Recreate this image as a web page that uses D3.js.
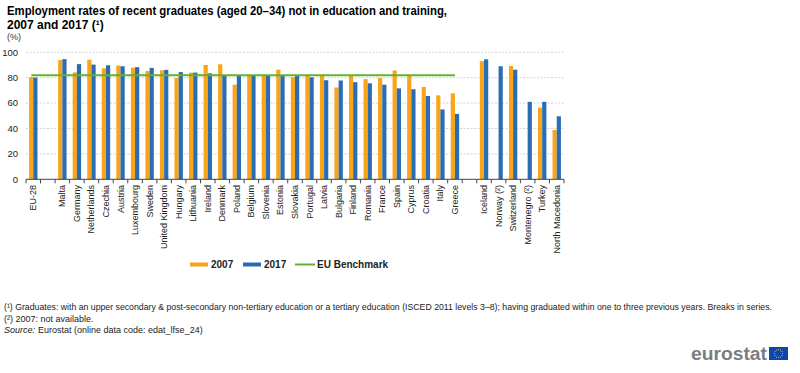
<!DOCTYPE html>
<html><head><meta charset="utf-8">
<script src="https://cdn.jsdelivr.net/npm/d3@7"></script>
<style>
html,body{margin:0;padding:0;background:#fff;}
svg{display:block;font-family:Arial,"Liberation Sans",sans-serif;}
</style></head>
<body><svg id="chart" width="800" height="373"></svg>
<script>
// ---- data ----
const categories = ["EU-28", "", "Malta", "Germany", "Netherlands", "Czechia", "Austria", "Luxembourg", "Sweden", "United Kingdom", "Hungary", "Lithuania", "Ireland", "Denmark", "Poland", "Belgium", "Slovenia", "Estonia", "Slovakia", "Portugal", "Latvia", "Bulgaria", "Finland", "Romania", "France", "Spain", "Cyprus", "Croatia", "Italy", "Greece", "", "Iceland", "Norway (²)", "Switzerland", "Montenegro (²)", "Turkey", "North Macedonia"];
const values2007 = [80.5, null, 93.9, 84.2, 94.2, 87.4, 89.6, 87.8, 85.2, 85.8, 79.8, 84.0, 90.0, 90.6, 74.5, 82.0, 81.8, 86.3, 80.4, 82.0, 82.2, 72.3, 82.2, 78.9, 79.8, 85.7, 82.0, 72.7, 66.1, 67.7, null, 93.0, null, 89.2, null, 56.4, 38.8];
const values2017 = [80.1, null, 94.6, 90.7, 90.3, 89.8, 89.0, 88.3, 87.7, 86.2, 84.4, 84.0, 83.4, 81.9, 81.7, 81.6, 81.6, 81.5, 81.4, 80.3, 78.0, 77.8, 76.5, 75.6, 74.5, 71.6, 70.9, 65.6, 55.0, 51.5, null, 94.5, 89.0, 86.3, 61.0, 61.0, 49.6];
const benchmark = 82;
const benchmarkFrom = "EU-28", benchmarkTo = "Greece";
const yTicks = [0, 20, 40, 60, 80, 100];
const seriesNames = ["2007", "2017", "EU Benchmark"];
const titleLines = ["Employment rates of recent graduates (aged 20–34) not in education and training,", "2007 and 2017 (¹)"];
const footnotes = ["(¹) Graduates: with an upper secondary & post-secondary non-tertiary education or a tertiary education (ISCED 2011 levels 3–8); having graduated within one to three previous years. Breaks in series.", "(²) 2007: not available."];
const sourceLabel = "Source:", sourceText = "Eurostat (online data code: edat_lfse_24)";

// ---- styles ----
const C07 = "#FAA519", C17 = "#2A6DB5", CBM = "#65B22E";
const svg = d3.select("#chart");

const keys = categories.map((c, i) => i);
const x = d3.scaleBand().domain(keys).range([26, 564]).paddingInner(0).paddingOuter(0);
const y = d3.scaleLinear().domain([0, 100]).range([179.3, 52.3]);
const bw = 4.2;

function fit(sel, target) {
  const w = sel.node().getComputedTextLength();
  if (w > target) sel.attr("textLength", target).attr("lengthAdjust", "spacingAndGlyphs");
  return sel;
}

// title
fit(svg.append("text").attr("x", 7).attr("y", 15).attr("font-size", 12).attr("font-weight", "bold").attr("fill", "#000")
  .text(titleLines[0]), 440);
svg.append("text").attr("x", 7).attr("y", 28.5).attr("font-size", 12).attr("font-weight", "bold").attr("fill", "#000")
  .text(titleLines[1]);
svg.append("text").attr("x", 7).attr("y", 40).attr("font-size", 9).attr("fill", "#333").text("(%)");

// gridlines
svg.append("g").selectAll("line").data(yTicks.filter(d => d > 0)).join("line")
  .attr("x1", 26).attr("x2", 564).attr("y1", d => y(d)).attr("y2", d => y(d))
  .attr("stroke", "#c8c8c8").attr("stroke-width", 0.8).attr("stroke-dasharray", "2,1.5");

// y labels
svg.append("g").selectAll("text").data(yTicks).join("text")
  .attr("x", 18).attr("y", d => y(d) + 3.3).attr("text-anchor", "end")
  .attr("font-size", 9.5).attr("fill", "#222").text(d => d);

// bars
const g = svg.append("g");
g.selectAll("rect.b07").data(keys.filter(i => values2007[i] != null)).join("rect")
  .attr("x", i => x(i) + x.bandwidth() / 2 - bw).attr("width", bw)
  .attr("y", i => y(values2007[i])).attr("height", i => y(0) - y(values2007[i]))
  .attr("fill", C07);
g.selectAll("rect.b17").data(keys.filter(i => values2017[i] != null)).join("rect")
  .attr("x", i => x(i) + x.bandwidth() / 2).attr("width", bw)
  .attr("y", i => y(values2017[i])).attr("height", i => y(0) - y(values2017[i]))
  .attr("fill", C17);

// benchmark line
const iFrom = categories.indexOf(benchmarkFrom), iTo = categories.indexOf(benchmarkTo);
svg.append("line")
  .attr("x1", x(iFrom) + x.bandwidth() / 2 - 2).attr("x2", x(iTo) + x.bandwidth() / 2)
  .attr("y1", y(benchmark)).attr("y2", y(benchmark))
  .attr("stroke", CBM).attr("stroke-width", 2);

// x axis
const ax = svg.append("g");
ax.append("line").attr("x1", 26).attr("x2", 564).attr("y1", y(0)).attr("y2", y(0)).attr("stroke", "#444").attr("stroke-width", 1);
const bounds = keys.map(i => x(i)).concat([x.range()[1]]);
ax.selectAll("line.tk").data(bounds).join("line").attr("class", "tk")
  .attr("x1", d => d).attr("x2", d => d).attr("y1", y(0)).attr("y2", y(0) + 4)
  .attr("stroke", "#444").attr("stroke-width", 1);
ax.selectAll("text").data(keys.filter(i => categories[i] !== "")).join("text")
  .attr("transform", i => `translate(${x(i) + x.bandwidth() / 2 + 3},185) rotate(-90)`)
  .attr("text-anchor", "end").attr("font-size", 9).attr("fill", "#222")
  .text(i => categories[i]);

// legend
const lg = svg.append("g").attr("font-size", 10).attr("font-weight", "bold").attr("fill", "#222");
lg.append("rect").attr("x", 190).attr("y", 262.5).attr("width", 18).attr("height", 4).attr("fill", C07);
lg.append("text").attr("x", 211).attr("y", 268).text(seriesNames[0]);
lg.append("rect").attr("x", 243).attr("y", 262.5).attr("width", 18).attr("height", 4).attr("fill", C17);
lg.append("text").attr("x", 264).attr("y", 268).text(seriesNames[1]);
lg.append("line").attr("x1", 295).attr("x2", 315).attr("y1", 264.5).attr("y2", 264.5).attr("stroke", CBM).attr("stroke-width", 2);
lg.append("text").attr("x", 317).attr("y", 268).text(seriesNames[2]);

// footnotes
const fn = svg.append("g").attr("font-size", 9).attr("fill", "#222");
fit(fn.append("text").attr("x", 4).attr("y", 310).text(footnotes[0]), 768);
fit(fn.append("text").attr("x", 4).attr("y", 321.5).text(footnotes[1]), 90);
const s1 = fn.append("text").attr("x", 4).attr("y", 333).attr("font-style", "italic").text(sourceLabel);
const s1w = s1.node().getComputedTextLength();
fit(fn.append("text").attr("x", 4 + s1w + 3).attr("y", 333).text(sourceText), 199 - s1w - 3);

// logo
svg.append("text").attr("x", 691).attr("y", 360).attr("font-size", 18).attr("font-weight", "bold")
  .attr("fill", "#7d7d7d").attr("textLength", 76).attr("lengthAdjust", "spacingAndGlyphs").text("eurostat");
svg.append("rect").attr("x", 769).attr("y", 347).attr("width", 19).attr("height", 13).attr("fill", "#0E47A8");
d3.range(12).forEach(k => {
  const a = k / 12 * 2 * Math.PI;
  svg.append("circle").attr("cx", 778.5 + 4 * Math.cos(a)).attr("cy", 353.5 + 4 * Math.sin(a)).attr("r", 0.55).attr("fill", "#FFD400");
});
</script></body></html>
